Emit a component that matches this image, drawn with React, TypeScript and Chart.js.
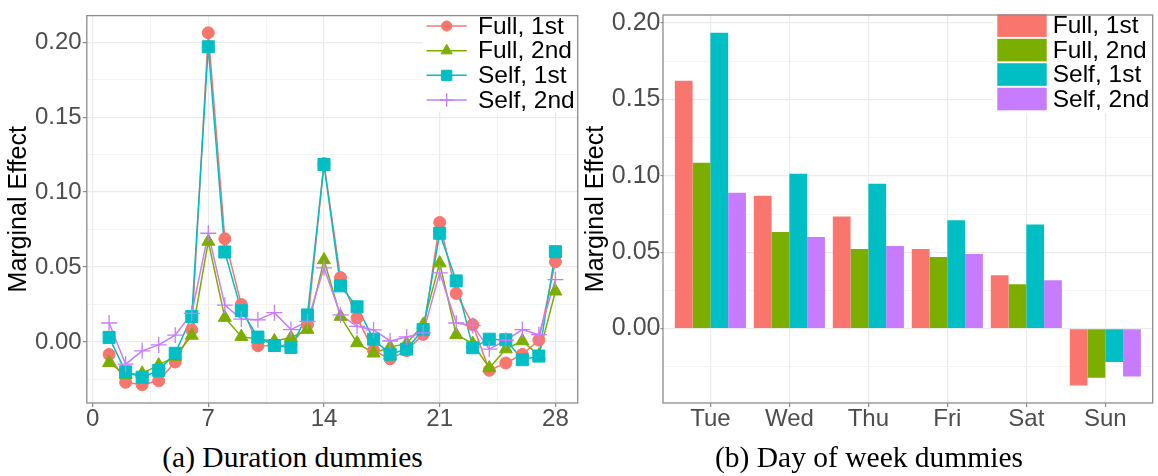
import React, { useEffect, useRef } from 'react';
import { Chart, registerables } from 'chart.js';
import { drawPoint } from 'chart.js/helpers';

Chart.register(...registerables);

const SANS = '"Liberation Sans", Arial, Helvetica, sans-serif';
const SERIF = '"Liberation Serif", "Times New Roman", serif';

// Series shared by both panels
const seriesNames = ['Full, 1st', 'Full, 2nd', 'Self, 1st', 'Self, 2nd'];
const seriesColors = ['#F8766D', '#7CAE00', '#00BFC4', '#C77CFF'];
const markerStyles = ['circle', 'triangle', 'rect', 'cross'];
const markerRadii = [6, 7.5, 8.5, 8];
const markerBorders = [1, 1, 1, 1.3];

// Panel (a): duration dummies, days 1..28
const durationDays = [1, 2, 3, 4, 5, 6, 7, 8, 9, 10, 11, 12, 13, 14, 15, 16, 17, 18, 19, 20, 21, 22, 23, 24, 25, 26, 27, 28];
const fullFirst = [-0.0084, -0.0270, -0.0286, -0.0260, -0.0134, 0.0080, 0.2063, 0.0688, 0.0249, -0.0026, -0.0026, -0.0020, 0.0115, 0.1190, 0.0429, 0.0160, -0.0058, -0.0113, -0.0058, 0.0050, 0.0797, 0.0323, 0.0115, -0.0190, -0.0141, -0.0084, 0.0012, 0.0535];
const fullSecond = [-0.0139, -0.0220, -0.0210, -0.0155, -0.0097, 0.0043, 0.0670, 0.0162, 0.0035, 0.0020, 0.0006, 0.0028, 0.0082, 0.0547, 0.0169, -0.0007, -0.0076, -0.0035, -0.0010, 0.0115, 0.0526, 0.0048, -0.0012, -0.0174, -0.0048, 0.0006, -0.0090, 0.0338];
const selfFirst = [0.0030, -0.0200, -0.0236, -0.0190, -0.0076, 0.0170, 0.1970, 0.0600, 0.0208, 0.0032, -0.0024, -0.0037, 0.0180, 0.1184, 0.0374, 0.0234, 0.0018, -0.0082, -0.0048, 0.0082, 0.0725, 0.0407, -0.0039, 0.0018, 0.0014, -0.0119, -0.0095, 0.0602];
const selfSecond = [0.0126, -0.0149, -0.0060, -0.0020, 0.0045, 0.0190, 0.0725, 0.0245, 0.0152, 0.0147, 0.0195, 0.0082, 0.0136, 0.0494, 0.0180, 0.0104, 0.0080, 0.0006, 0.0033, 0.0060, 0.0461, 0.0126, 0.0110, -0.0048, 0.0011, 0.0082, 0.0048, 0.0415];
const durationSeries = [fullFirst, fullSecond, selfFirst, selfSecond];

const durationTicks = [0, 7, 14, 21, 28];
const durationMinorTicks = [3.5, 10.5, 17.5, 24.5];

// Panel (b): day-of-week dummies
const weekdays = ['Tue', 'Wed', 'Thu', 'Fri', 'Sat', 'Sun'];
const dowFullFirst = [0.1623, 0.0870, 0.0734, 0.0521, 0.0349, -0.0372];
const dowFullSecond = [0.1085, 0.0632, 0.0521, 0.0468, 0.0291, -0.0321];
const dowSelfFirst = [0.1936, 0.1013, 0.0949, 0.0709, 0.0681, -0.0219];
const dowSelfSecond = [0.0889, 0.0600, 0.0540, 0.0489, 0.0317, -0.0313];
const weekdaySeries = [dowFullFirst, dowFullSecond, dowSelfFirst, dowSelfSecond];

const effectTicks = [0, 0.05, 0.1, 0.15, 0.2];
const effectMinorTicks = [-0.025, 0.025, 0.075, 0.125, 0.175];

// Shared styling helpers
const TICK_COLOR = '#4D4D4D';
const BORDER_COLOR = '#8C8C8C';

const isMajor = (c: any) => !!(c && c.tick && c.tick.major);

const gridStyle = (tickLength: number) => ({
  color: (c: any) => (isMajor(c) ? '#EBEBEB' : '#F3F3F3'),
  lineWidth: (c: any) => (isMajor(c) ? 1.2 : 0.9),
  tickColor: (c: any) => (isMajor(c) ? BORDER_COLOR : 'rgba(0,0,0,0)'),
  tickLength,
  drawTicks: true,
  offset: false,
});

const setTicks = (major: number[], minor: number[]) => (axis: any) => {
  const all = major.map((v) => ({ value: v, major: true })).concat(minor.map((v) => ({ value: v, major: false })));
  all.sort((a, b) => a.value - b.value);
  axis.ticks = all;
};

const panelFrame = {
  id: 'panelFrame',
  afterDraw(chart: any) {
    const { ctx, chartArea } = chart;
    ctx.save();
    ctx.strokeStyle = BORDER_COLOR;
    ctx.lineWidth = 1.3;
    ctx.strokeRect(chartArea.left, chartArea.top, chartArea.right - chartArea.left, chartArea.bottom - chartArea.top);
    ctx.restore();
  },
};

const legendLines = {
  id: 'legendLines',
  afterDatasetsDraw(chart: any) {
    const { ctx } = chart;
    ctx.save();
    ctx.fillStyle = '#FFFFFF';
    ctx.fillRect(423, 9, chart.chartArea.right - 423, 103);
    seriesNames.forEach((name, i) => {
      const y = 26 + i * 24.67;
      ctx.strokeStyle = seriesColors[i];
      ctx.lineWidth = 1.5;
      ctx.beginPath();
      ctx.moveTo(426.5, y);
      ctx.lineTo(466.7, y);
      ctx.stroke();
      ctx.fillStyle = seriesColors[i];
      ctx.lineWidth = markerBorders[i];
      drawPoint(ctx, { pointStyle: markerStyles[i], radius: markerRadii[i] * 0.85, rotation: 0, borderWidth: markerBorders[i] }, 446.7, y);
      ctx.fillStyle = '#000000';
      ctx.font = `24.5px ${SANS}`;
      ctx.textAlign = 'left';
      ctx.textBaseline = 'middle';
      ctx.fillText(name, 478, y + 1);
    });
    ctx.restore();
  },
};

const legendBars = {
  id: 'legendBars',
  afterDatasetsDraw(chart: any) {
    const { ctx } = chart;
    ctx.save();
    ctx.fillStyle = '#FFFFFF';
    ctx.fillRect(413, 9, chart.chartArea.right - 413, 104);
    seriesNames.forEach((name, i) => {
      const top = 14.3 + i * 24.47;
      ctx.fillStyle = seriesColors[i];
      ctx.fillRect(417.3, top, 49.4, 22.6);
      ctx.fillStyle = '#000000';
      ctx.font = `24.5px ${SANS}`;
      ctx.textAlign = 'left';
      ctx.textBaseline = 'middle';
      ctx.fillText(name, 472.7, top + 12.3);
    });
    ctx.restore();
  },
};

function durationConfig(): any {
  const lines = durationSeries.map((values, i) => ({
    label: seriesNames[i],
    data: durationDays.map((d, j) => ({ x: d, y: values[j] })),
    borderColor: seriesColors[i],
    backgroundColor: seriesColors[i],
    borderWidth: 1.5,
    pointRadius: 0,
    pointHoverRadius: 0,
    showLine: true,
    order: 13 - i,
  }));
  const points = durationSeries.map((values, i) => ({
    label: seriesNames[i],
    data: durationDays.map((d, j) => ({ x: d, y: values[j] })),
    borderColor: seriesColors[i],
    backgroundColor: seriesColors[i],
    showLine: false,
    pointStyle: markerStyles[i],
    pointRadius: markerRadii[i],
    pointBorderWidth: markerBorders[i],
    pointHoverRadius: markerRadii[i],
    order: 3 - i,
  }));
  return {
    type: 'line',
    data: { datasets: [...lines, ...points] },
    options: {
      animation: false,
      responsive: false,
      events: [],
      layout: { padding: { left: 0, top: 5.7, right: 12.3, bottom: 0 } },
      plugins: { legend: { display: false }, tooltip: { enabled: false } },
      scales: {
        x: {
          type: 'linear',
          bounds: 'data',
          min: -0.35,
          max: 29.35,
          afterBuildTicks: setTicks(durationTicks, durationMinorTicks),
          afterFit: (s: any) => { s.height = 37; },
          grid: gridStyle(4),
          border: { display: false },
          ticks: {
            autoSkip: false,
            maxRotation: 0,
            padding: 0.5,
            color: TICK_COLOR,
            font: { family: SANS, size: 24, lineHeight: 1 },
            callback: (v: any, i: number, t: any[]) => (t[i].major ? String(v) : ''),
          },
        },
        y: {
          type: 'linear',
          bounds: 'data',
          min: -0.0408,
          max: 0.2178,
          afterBuildTicks: setTicks(effectTicks, effectMinorTicks),
          afterFit: (s: any) => { s.width = 86.8; },
          grid: gridStyle(4),
          border: { display: false },
          title: {
            display: true,
            text: 'Marginal Effect',
            color: '#000000',
            font: { family: SANS, size: 25 },
            padding: { top: 4, bottom: 0 },
          },
          ticks: {
            autoSkip: false,
            padding: 1.2,
            color: TICK_COLOR,
            font: { family: SANS, size: 24 },
            callback: (v: any, i: number, t: any[]) => (t[i].major ? Number(v).toFixed(2) : ''),
          },
        },
      },
    },
    plugins: [legendLines, panelFrame],
  };
}

function weekdayConfig(): any {
  const datasets = weekdaySeries.map((values, i) => ({
    label: seriesNames[i],
    data: weekdays.map((_, j) => ({ x: j + 1, y: values[j] })),
    backgroundColor: seriesColors[i],
    borderWidth: 0,
  }));
  return {
    type: 'bar',
    data: { datasets },
    options: {
      animation: false,
      responsive: false,
      events: [],
      layout: { padding: { left: 0, top: 5.7, right: 5.3, bottom: 0 } },
      plugins: { legend: { display: false }, tooltip: { enabled: false } },
      datasets: { bar: { categoryPercentage: 0.9, barPercentage: 1.0 } },
      scales: {
        x: {
          type: 'linear',
          offset: false,
          bounds: 'data',
          min: 0.4,
          max: 6.6,
          afterBuildTicks: setTicks(weekdays.map((_, j) => j + 1), []),
          afterFit: (s: any) => { s.height = 37; },
          grid: gridStyle(4),
          border: { display: false },
          ticks: {
            autoSkip: false,
            maxRotation: 0,
            padding: 0.5,
            color: TICK_COLOR,
            font: { family: SANS, size: 24, lineHeight: 1 },
            callback: (v: any) => weekdays[Math.round(Number(v)) - 1] ?? '',
          },
        },
        y: {
          type: 'linear',
          bounds: 'data',
          min: -0.0487,
          max: 0.2053,
          afterBuildTicks: setTicks(effectTicks, effectMinorTicks),
          afterFit: (s: any) => { s.width = 83; },
          grid: gridStyle(2.5),
          border: { display: false },
          title: {
            display: true,
            text: 'Marginal Effect',
            color: '#000000',
            font: { family: SANS, size: 25 },
            padding: { top: 1, bottom: 0 },
          },
          ticks: {
            autoSkip: false,
            padding: 0,
            color: TICK_COLOR,
            font: { family: SANS, size: 25 },
            callback: (v: any, i: number, t: any[]) => (t[i].major ? Number(v).toFixed(2) : ''),
          },
        },
      },
    },
    plugins: [legendBars, panelFrame],
  };
}

const captionStyle = (centerX: number): React.CSSProperties => ({
  position: 'absolute',
  left: centerX,
  top: 443,
  transform: 'translateX(-50%)',
  whiteSpace: 'nowrap',
  fontFamily: SERIF,
  fontSize: 29.5,
  lineHeight: '29px',
  color: '#000000',
});

export default function App() {
  const durationRef = useRef<HTMLCanvasElement>(null);
  const weekdayRef = useRef<HTMLCanvasElement>(null);

  useEffect(() => {
    const a = new Chart(durationRef.current as HTMLCanvasElement, durationConfig());
    const b = new Chart(weekdayRef.current as HTMLCanvasElement, weekdayConfig());
    return () => {
      a.destroy();
      b.destroy();
    };
  }, []);

  return (
    <div style={{ position: 'absolute', left: 0, top: 0, width: 1158, height: 476, background: '#FFFFFF', overflow: 'hidden' }}>
      <canvas ref={durationRef} width={590} height={440} style={{ position: 'absolute', left: 0, top: 0, width: 590, height: 440 }} />
      <canvas ref={weekdayRef} width={578} height={440} style={{ position: 'absolute', left: 580, top: 0, width: 578, height: 440 }} />
      <div style={captionStyle(292.5)}>(a) Duration dummies</div>
      <div style={captionStyle(869)}>(b) Day of week dummies</div>
    </div>
  );
}
